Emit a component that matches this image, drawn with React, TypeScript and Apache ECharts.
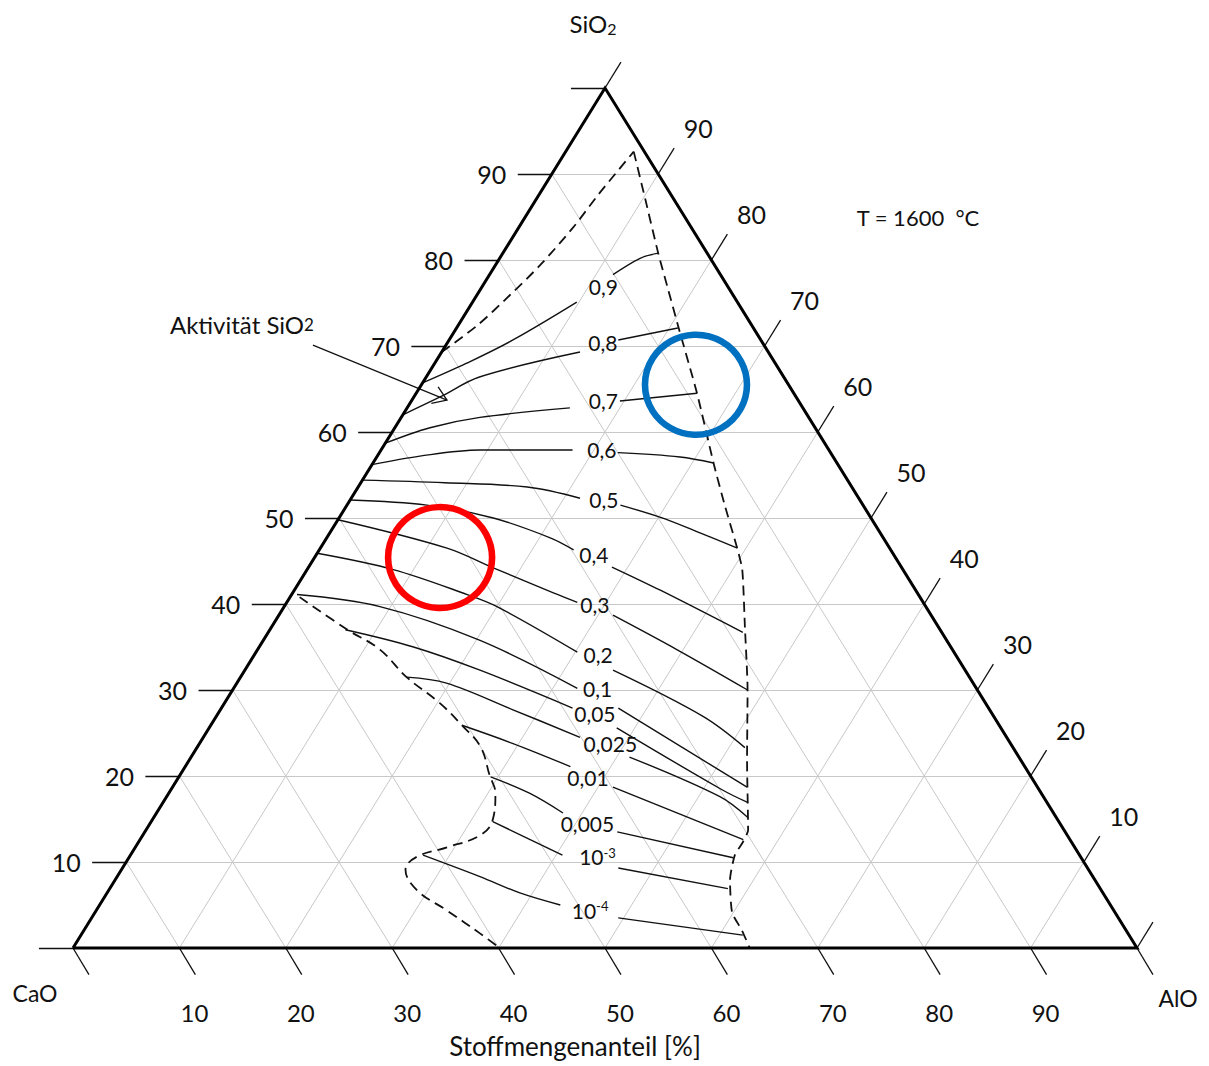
import React, { useEffect, useRef } from "react";
import * as echarts from "echarts";

// ---------- layout ----------
const W = 1209;
const H = 1066;
const PLOT = { left: 73, top: 88, width: 1064, height: 860 };
const FONT = "Lato, 'Noto Sans', sans-serif";
const INK = "#111111";

// ---------- data: compositions as [SiO2 %, AlO %] (CaO = rest) ----------
const GRID_LEVELS = [10, 20, 30, 40, 50, 60, 70, 80, 90];
const EDGE_TICKS = [0, 10, 20, 30, 40, 50, 60, 70, 80, 90, 100];
const LEFT_LABELS = [10, 20, 30, 40, 50, 60, 70, 80, 90];
const RIGHT_LABELS = [10, 20, 30, 40, 50, 60, 70, 80, 90];
const BOTTOM_LABELS = [10, 20, 30, 40, 50, 60, 70, 80, 90];

const CONTOUR_LABELS = [
  "0,9", "0,8", "0,7", "0,6", "0,5", "0,4", "0,3", "0,2", "0,1",
  "0,05", "0,025", "0,01", "0,005", "10{sup|-3}", "10{sup|-4}",
];
const CONTOUR_LABEL_AT = [
  [76.9, 11.4], [70.4, 14.6], [63.7, 18.0], [58.0, 20.7], [52.2, 23.8],
  [45.7, 26.1], [39.9, 29.1], [34.1, 32.3], [30.2, 34.2], [27.3, 35.4],
  [23.8, 38.6], [19.8, 38.5], [14.5, 41.1], [10.6, 44.0], [4.4, 46.4],
];
const CONTOUR_LEFT = [
  [[65.7, 0], [68.0, 3.0], [70.7, 6.0], [75.1, 9.8]],
  [[62.0, 0], [64.1, 2.5], [66.4, 5.0], [69.3, 13.0]],
  [[58.7, 0], [60.5, 3.3], [61.7, 7.4], [62.8, 15.3]],
  [[56.2, 0], [57.2, 4.0], [57.9, 9.3], [57.9, 18.0]],
  [[54.4, 0], [54.1, 7.9], [53.6, 15.9], [52.3, 21.5]],
  [[52.1, 0], [51.5, 7.5], [50.0, 14.5], [47.7, 21.0], [46.3, 23.9]],
  [[49.8, 0], [46.5, 11.9], [44.2, 17.4], [41.3, 24.5], [40.2, 27.3]],
  [[45.9, 0], [44.0, 8.1], [41.1, 16.5], [39.7, 20.0], [34.4, 30.2]],
  [[41.1, 0.5], [39.7, 9.0], [35.8, 20.3], [30.2, 32.3]],
  [[37.0, 7.1], [35.0, 14.5], [32.3, 22.1], [27.9, 33.0]],
  [[31.5, 15.6], [30.8, 19.7], [27.7, 27.5], [24.5, 35.4]],
  [[25.9, 23.6], [23.8, 29.4], [21.1, 36.2]],
  [[19.9, 29.3], [18.0, 33.9], [15.7, 38.2]],
  [[14.7, 32.1], [10.8, 40.6]],
  [[10.8, 27.5], [8.3, 34.1], [6.4, 38.8], [5.0, 43.3]],
];
const CONTOUR_RIGHT = [
  [[78.3, 11.6], [80.2, 13.2], [80.8, 14.6]],
  [[70.7, 15.9], [72.1, 20.8]],
  [[63.6, 19.6], [64.5, 26.4]],
  [[57.6, 22.4], [57.1, 28.5], [56.4, 32.0]],
  [[51.5, 25.7], [50.1, 30.1], [48.6, 34.0], [46.5, 39.2]],
  [[44.3, 28.5], [41.6, 34.4], [36.7, 44.6]],
  [[38.7, 31.4], [34.7, 39.4], [30.0, 48.4]],
  [[32.3, 34.6], [26.9, 45.8], [23.3, 51.5]],
  [[27.9, 37.3], [18.7, 54.0]],
  [[25.6, 38.3], [18.4, 51.8], [16.9, 55.0]],
  [[22.2, 41.2], [17.6, 52.0], [15.2, 55.8]],
  [[18.7, 41.4], [12.6, 56.7]],
  [[13.5, 44.4], [10.5, 56.8]],
  [[9.3, 46.6], [6.9, 58.1]],
  [[3.5, 49.5], [1.5, 62.2]],
];

const DASH_TOP_LEFT = [
  [69.3, 0], [72.4, 1.8], [75.9, 3.1], [79.4, 4.2], [83.7, 5.1], [87.8, 5.6], [92.6, 6.4],
];
const DASH_RIGHT = [
  [92.6, 6.4], [87.0, 10.3], [80.8, 14.6], [76.5, 17.7], [72.2, 20.8], [64.5, 26.4],
  [56.4, 32.0], [51.5, 35.5], [46.6, 39.1], [44.0, 40.9], [37.3, 44.5], [30.0, 48.4],
  [21.9, 52.4], [13.7, 56.6], [12.3, 56.8], [10.8, 56.8], [7.9, 57.8], [4.1, 59.9],
  [2.1, 61.8], [0, 63.6],
];
const DASH_BOTTOM = [
  [40.8, 0.9], [37.0, 7.3], [34.7, 11.5], [31.5, 15.6], [28.5, 20.2], [25.9, 23.6],
  [23.4, 26.6], [20.1, 29.1], [18.0, 30.7], [14.9, 32.0], [13.1, 31.7], [11.7, 29.3],
  [10.6, 27.0], [9.1, 26.7], [6.7, 29.0], [4.4, 32.9], [1.7, 37.4], [0, 40.1],
];

const RED_MARK = [45.4, 11.8];
const BLUE_MARK = [65.5, 25.8];
const ARROW_FROM = [70.1, -12.5];
const ARROW_TO = [63.7, 3.3];

// ternary [SiO2, AlO] -> cartesian [x, y]
const toXY = (p: number[]) => [p[1] + p[0] / 2, p[0]];

export default function App() {
  const ref = useRef<HTMLDivElement>(null);

  useEffect(() => {
    if (!ref.current) return;
    const chart = echarts.init(ref.current, null, { renderer: "svg" });

    const xMin = (-PLOT.left / PLOT.width) * 100;
    const xMax = ((W - PLOT.left) / PLOT.width) * 100;
    const yMax = ((PLOT.top + PLOT.height) / PLOT.height) * 100;
    const yMin = (-(H - PLOT.top - PLOT.height) / PLOT.height) * 100;

    const gridSegs: any[] = [];
    GRID_LEVELS.forEach((v) => {
      gridSegs.push({ coords: [toXY([v, 0]), toXY([v, 100 - v])] });
      gridSegs.push({ coords: [toXY([0, v]), toXY([100 - v, v])] });
      gridSegs.push({ coords: [toXY([0, 100 - v]), toXY([100 - v, 0])] });
    });

    const tickSegs: any[] = [];
    EDGE_TICKS.forEach((v) => {
      const l = toXY([v, 0]);
      tickSegs.push({ coords: [l, [l[0] - 3.2, l[1]]] });
      const r = toXY([v, 100 - v]);
      tickSegs.push({ coords: [r, [r[0] + 1.5, r[1] + 3.0]] });
      const b = toXY([0, v]);
      tickSegs.push({ coords: [b, [b[0] + 1.5, b[1] - 3.1]] });
    });

    const line = (pts: number[][], style: any, smooth: number, z = 5) => ({
      type: "line",
      data: pts.map(toXY),
      showSymbol: false,
      symbol: "none",
      smooth,
      clip: false,
      silent: true,
      z,
      lineStyle: style,
    });

    const solid = { color: INK, width: 1.4, opacity: 1 };
    const dashed = { color: INK, width: 1.8, type: [10, 6], opacity: 1 };

    const series: any[] = [
      {
        type: "lines",
        coordinateSystem: "cartesian2d",
        data: gridSegs,
        silent: true,
        z: 1,
        lineStyle: { color: "#c8c8c8", width: 1, opacity: 1 },
      },
      {
        type: "lines",
        coordinateSystem: "cartesian2d",
        data: tickSegs,
        silent: true,
        z: 2,
        lineStyle: { color: INK, width: 1.3, opacity: 1 },
      },
      {
        type: "line",
        data: [toXY([0, 0]), toXY([0, 100]), toXY([100, 0]), toXY([0, 0])],
        showSymbol: false,
        symbol: "none",
        clip: false,
        silent: true,
        z: 6,
        lineStyle: { color: "#000", width: 3, join: "miter", opacity: 1 },
      },
      line(DASH_TOP_LEFT, dashed, 0.3),
      line(DASH_RIGHT, dashed, 0.2),
      line(DASH_BOTTOM, dashed, 0.4),
      line([ARROW_FROM, ARROW_TO], { color: INK, width: 1.3 }, 0),
    ];
    CONTOUR_LEFT.forEach((c) => series.push(line(c, solid, 0.35)));
    CONTOUR_RIGHT.forEach((c) => series.push(line(c, solid, 0.35)));

    const hidden = { color: "rgba(0,0,0,0)", opacity: 1 };
    const labelBase = {
      show: true,
      position: "inside",
      color: INK,
      fontFamily: FONT,
      opacity: 1,
      textBorderWidth: 0,
    };
    series.push({
      type: "scatter",
      symbolSize: 1,
      itemStyle: hidden,
      silent: true,
      z: 8,
      data: CONTOUR_LABELS.map((t, i) => ({ value: toXY(CONTOUR_LABEL_AT[i]), name: t })),
      label: {
        ...labelBase,
        fontSize: 21,
        formatter: (p: any) => p.name,
        rich: { sup: { fontSize: 13, verticalAlign: "top", color: INK, fontFamily: FONT } },
      },
    });
    series.push({
      type: "scatter",
      symbolSize: 1,
      itemStyle: hidden,
      silent: true,
      z: 8,
      data: LEFT_LABELS.map((v) => ({ value: toXY([v, 0]), name: String(v) })),
      label: { ...labelBase, fontSize: 25, offset: [-60, 0], formatter: "{b}" },
    });
    series.push({
      type: "scatter",
      symbolSize: 1,
      itemStyle: hidden,
      silent: true,
      z: 8,
      data: RIGHT_LABELS.map((v) => ({ value: toXY([v, 100 - v]), name: String(v) })),
      label: { ...labelBase, fontSize: 25, offset: [40, -46], formatter: "{b}" },
    });
    series.push({
      type: "scatter",
      symbolSize: 1,
      itemStyle: hidden,
      silent: true,
      z: 8,
      data: BOTTOM_LABELS.map((v) => ({ value: toXY([0, v]), name: String(v) })),
      label: { ...labelBase, fontSize: 24, offset: [15, 64], formatter: "{b}" },
    });
    series.push({
      type: "scatter",
      silent: true,
      z: 9,
      symbol: "circle",
      data: [
        { value: toXY(RED_MARK), symbolSize: [104, 101], itemStyle: { color: "rgba(0,0,0,0)", borderColor: "#ff0000", borderWidth: 6.5, opacity: 1 } },
        { value: toXY(BLUE_MARK), symbolSize: [102, 100], itemStyle: { color: "rgba(0,0,0,0)", borderColor: "#0070c0", borderWidth: 6.5, opacity: 1 } },
      ],
    });

    chart.setOption({
      animation: false,
      backgroundColor: "#ffffff",
      grid: { left: 0, right: 0, top: 0, bottom: 0, containLabel: false },
      xAxis: { type: "value", min: xMin, max: xMax, show: false },
      yAxis: { type: "value", min: yMin, max: yMax, show: false },
      series,
    });

    const p0 = chart.convertToPixel({ gridIndex: 0 }, toXY(ARROW_FROM)) as number[];
    const p1 = chart.convertToPixel({ gridIndex: 0 }, toXY(ARROW_TO)) as number[];
    const ang = Math.atan2(p1[1] - p0[1], p1[0] - p0[0]);
    const hl = 16;
    const hA = (34 * Math.PI) / 180;
    const h1 = [p1[0] - hl * Math.cos(ang - hA), p1[1] - hl * Math.sin(ang - hA)];
    const h2 = [p1[0] - hl * Math.cos(ang + hA), p1[1] - hl * Math.sin(ang + hA)];
    const apex = chart.convertToPixel({ gridIndex: 0 }, toXY([100, 0])) as number[];
    const cao = chart.convertToPixel({ gridIndex: 0 }, toXY([0, 0])) as number[];
    const alo = chart.convertToPixel({ gridIndex: 0 }, toXY([0, 100])) as number[];

    const txt = (x: number, y: number, text: string, size: number, rich?: any) => ({
      type: "text",
      x,
      y,
      silent: true,
      z: 10,
      style: {
        text,
        fill: INK,
        fontSize: size,
        fontFamily: FONT,
        align: "center",
        verticalAlign: "middle",
        rich,
      },
    });

    chart.setOption({
      graphic: [
        {
          type: "polyline",
          silent: true,
          z: 10,
          shape: { points: [h1, p1, h2] },
          style: { stroke: INK, lineWidth: 1.3, fill: "none" },
        },
        txt(apex[0] - 12, apex[1] - 65, "SiO{sub|2}", 24, {
          sub: { fontSize: 16, verticalAlign: "bottom", padding: [10, 0, 0, 0], fill: INK, fontFamily: FONT },
        }),
        txt(cao[0] - 38, cao[1] + 45, "CaO", 23),
        txt(alo[0] + 41, alo[1] + 50, "AlO", 23),
        txt(575, 1046, "Stoffmengenanteil [%]", 26),
        txt(918, 217, "T = 1600  °C", 22),
        txt(p0[0] - 71, p0[1] - 21, "Aktivität SiO{sub|2}", 24, {
          sub: { fontSize: 17, fill: INK, fontFamily: FONT },
        }),
      ],
    });

    return () => chart.dispose();
  }, []);

  return (
    <div
      ref={ref}
      style={{ position: "absolute", left: 0, top: 0, width: W, height: H, background: "#fff" }}
    />
  );
}
